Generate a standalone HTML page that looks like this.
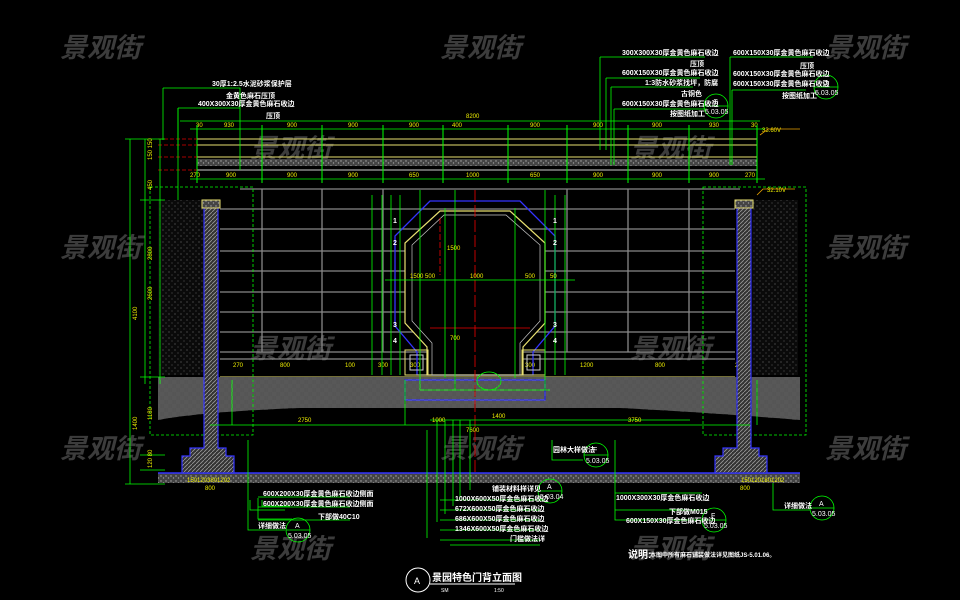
<!DOCTYPE html>
<html><head><meta charset="utf-8"><style>
html,body{margin:0;padding:0;background:#000;width:960px;height:600px;overflow:hidden}
svg{display:block}
text{font-family:"Liberation Sans","Noto Sans CJK SC",sans-serif}
.wm{fill:#3c3c3c;font-size:27px;font-style:italic;font-weight:bold}
.d{fill:#f0f000;font-size:6px}
.t{fill:#fff;font-size:7px;font-weight:bold}
</style></head><body>
<svg width="960" height="600" viewBox="0 0 960 600" xmlns="http://www.w3.org/2000/svg">
<defs>
<pattern id="dots" width="6" height="6" patternUnits="userSpaceOnUse"><rect width="6" height="6" fill="#0a0a0a"/><circle cx="1" cy="2" r=".5" fill="#999"/><circle cx="4" cy="5" r=".5" fill="#777"/></pattern>
<pattern id="weave" width="8" height="8" patternUnits="userSpaceOnUse"><rect width="8" height="8" fill="#3a3a3a"/><path d="M0 1h4M0 3h4M4 5h4M4 7h4M5 0v4M7 0v4M1 4v4M3 4v4" stroke="#888" stroke-width=".7"/></pattern>
<pattern id="hat" width="4" height="4" patternUnits="userSpaceOnUse"><rect width="4" height="4" fill="#333"/><path d="M0 4L4 0" stroke="#999" stroke-width=".8"/></pattern>
<pattern id="grav" width="5" height="5" patternUnits="userSpaceOnUse"><rect width="5" height="5" fill="#444"/><circle cx="1" cy="1" r=".7" fill="#aaa"/><circle cx="3.5" cy="3" r=".7" fill="#999"/></pattern>
</defs>

<g class="wm">
<text x="60" y="57">景观街</text><text x="440" y="57">景观街</text><text x="825" y="57">景观街</text>
<text x="250" y="158">景观街</text><text x="630" y="158">景观街</text>
<text x="60" y="257">景观街</text><text x="440" y="257">景观街</text><text x="825" y="257">景观街</text>
<text x="250" y="358">景观街</text><text x="630" y="358">景观街</text>
<text x="60" y="458">景观街</text><text x="440" y="458">景观街</text><text x="825" y="458">景观街</text>
<text x="250" y="558">景观街</text><text x="630" y="558">景观街</text>
</g>

<line x1="180" y1="121" x2="760" y2="121" stroke="#0f0" stroke-width=".8"/>
<text class="d" x="466" y="118">8200</text>
<line x1="190" y1="129" x2="765" y2="129" stroke="#0f0" stroke-width=".8"/>
<g class="d">
<text x="196" y="127">30</text><text x="224" y="127">930</text><text x="287" y="127">900</text><text x="348" y="127">900</text><text x="409" y="127">900</text><text x="452" y="127">400</text><text x="530" y="127">900</text><text x="593" y="127">900</text><text x="652" y="127">900</text><text x="709" y="127">930</text><text x="751" y="127">30</text>
<text x="190" y="177">270</text><text x="226" y="177">900</text><text x="287" y="177">900</text><text x="348" y="177">900</text><text x="409" y="177">650</text><text x="466" y="177">1000</text><text x="530" y="177">650</text><text x="593" y="177">900</text><text x="652" y="177">900</text><text x="709" y="177">900</text><text x="745" y="177">270</text>
</g>
<rect x="197" y="139" width="560" height="6" fill="none" stroke="#e8e070" stroke-width="1"/>
<line x1="197" y1="157" x2="757" y2="157" stroke="#e8e070"/>
<rect x="197" y="159" width="560" height="7" fill="url(#grav)"/>
<line x1="197" y1="170" x2="757" y2="170" stroke="#ccc"/>
<line x1="190" y1="179" x2="765" y2="179" stroke="#0f0" stroke-width=".8"/>
<g stroke="#0f0" stroke-width="1">
<path d="M262 125v58M322 125v58M383 125v58M443 125v58M508 125v58M567 125v58M628 125v58M689 125v58M197 125v58M757 125v58"/>
</g>
<g stroke="#d00" stroke-dasharray="4 2" stroke-width=".8"><path d="M158 139h39M158 145h39M158 157h39M158 170h39"/></g>
<text class="d" x="762" y="132">33.60V</text>
<text class="d" x="767" y="192">32.10V</text>
<path d="M760 135l8-6h32M757 195l6-6h32" stroke="#e8a000" fill="none" stroke-width=".8"/>

<g stroke="#888" stroke-width="1.3">
<path d="M240 189h500M220 209h515M220 229h515M220 251h515M220 271h515M220 292h515M220 312h515M220 332h515M220 352h515M220 359h515"/>
<path d="M262 189v163M322 189v163M383 189v163M567 189v163M628 189v163M689 189v163"/>
</g>
<line x1="220" y1="377" x2="735" y2="377" stroke="#e8e070"/>
<g class="d"><text x="233" y="367">270</text><text x="280" y="367">800</text><text x="345" y="367">100</text><text x="378" y="367">300</text><text x="410" y="367">300</text><text x="466" y="367">1400</text><text x="525" y="367">300</text><text x="580" y="367">1200</text><text x="655" y="367">800</text><text x="735" y="367">270</text></g>

<path d="M158 377H800V420Q700 412 620 408H300Q200 412 158 420Z" fill="url(#weave)"/>
<rect x="405" y="380" width="140" height="20" fill="url(#weave)" stroke="#33f" stroke-width="1.2"/>
<rect x="158" y="473" width="642" height="10" fill="url(#grav)"/>
<line x1="158" y1="473" x2="800" y2="473" stroke="#33f" stroke-width="1.5"/>

<rect x="158" y="200" width="46" height="175" fill="url(#dots)"/>
<rect x="752" y="200" width="46" height="175" fill="url(#dots)"/>
<rect x="150" y="187" width="103" height="248" fill="none" stroke="#0f0" stroke-dasharray="3 2" stroke-width=".8"/>
<rect x="703" y="187" width="103" height="248" fill="none" stroke="#0f0" stroke-dasharray="3 2" stroke-width=".8"/>
<g stroke="#33f" stroke-width="1.2">
<path d="M204 208h14v240h8v8h8v17h-52v-17h8v-8h14z" fill="url(#hat)"/>
<path d="M737 208h14v240h8v8h8v17h-52v-17h8v-8h14z" fill="url(#hat)"/>
</g>
<rect x="202" y="200" width="18" height="8" fill="url(#grav)" stroke="#e8e070"/>
<rect x="735" y="200" width="18" height="8" fill="url(#grav)" stroke="#e8e070"/>
<g class="d"><text x="187" y="482">1501203801202</text><text x="741" y="482">1501201801202</text><text x="205" y="490">800</text><text x="740" y="490">800</text></g>

<path d="M430 201h90l35 35v90l-22 26v23h-116v-23l-22-26v-90z" fill="none" stroke="#33f" stroke-width="1.3"/>
<path d="M440 211h70l35 32v80l-22 24v28h-96v-28l-22-24v-80z" fill="#000" stroke="#e8e070" stroke-width="1.2"/>
<path d="M444 215h62l34 30v76l-20 22v32h-88v-32l-20-22v-76z" fill="none" stroke="#c8c8c8" stroke-width=".7"/>
<rect x="405" y="350" width="23" height="25" fill="none" stroke="#e8e070"/><rect x="410" y="355" width="13" height="15" fill="none" stroke="#ccc"/>
<rect x="522" y="350" width="23" height="25" fill="none" stroke="#e8e070"/><rect x="527" y="355" width="13" height="15" fill="none" stroke="#ccc"/>
<line x1="475" y1="190" x2="475" y2="472" stroke="#e00" stroke-dasharray="12 3" stroke-width=".8"/>
<line x1="440" y1="218" x2="440" y2="275" stroke="#e00" stroke-dasharray="6 2" stroke-width=".8"/>
<line x1="430" y1="328" x2="530" y2="328" stroke="#e00" stroke-width=".8"/>
<g stroke="#0f0" stroke-width=".8" fill="none">
<path d="M372 195v180M382 195v180M391 195v180M400 195v180M555 195v180M565 195v180M385 280h190M420 390h130M430 420h260M210 425h540M420 190v200M455 190v200M445 208v170M515 208v170M545 190v200M232 380v45M757 380v45M405 380v45"/>
<ellipse cx="489" cy="381" rx="12" ry="9"/>
</g>
<g class="d">
<text x="410" y="278">1500 500</text><text x="470" y="278">1000</text><text x="525" y="278">500</text><text x="550" y="278">50</text>
<text x="447" y="250">1500</text><text x="450" y="340">700</text>
<text x="492" y="418">1400</text><text x="466" y="432">7600</text><text x="298" y="422">2750</text><text x="628" y="422">3750</text><text x="432" y="422">1000</text>
</g>
<g fill="#fff" font-size="7" font-weight="bold"><text x="393" y="223">1</text><text x="393" y="245">2</text><text x="393" y="327">3</text><text x="393" y="343">4</text><text x="553" y="223">1</text><text x="553" y="245">2</text><text x="553" y="327">3</text><text x="553" y="343">4</text></g>

<g stroke="#0f0" stroke-width=".8">
<path d="M130 139v345M145 139v245M160 139v245M125 139h40M125 484h40M140 200h25M140 377h25M140 455h25M140 470h25"/>
</g>
<g class="d">
<text x="137" y="320" transform="rotate(-90 137 320)">4100</text>
<text x="152" y="260" transform="rotate(-90 152 260)">2800</text>
<text x="152" y="300" transform="rotate(-90 152 300)">2600</text>
<text x="137" y="430" transform="rotate(-90 137 430)">1400</text>
<text x="152" y="420" transform="rotate(-90 152 420)">1180</text>
<text x="152" y="160" transform="rotate(-90 152 160)">150 150</text>
<text x="152" y="190" transform="rotate(-90 152 190)">450</text>
<text x="152" y="468" transform="rotate(-90 152 468)">120 80</text>
</g>

<g stroke="#0f0" stroke-width=".8" fill="none">
<path d="M163 88H240V170M178 108H240M178 108V200"/>
<path d="M163 88V140M178 108V150"/>
</g>
<g class="t"><text x="212" y="86">30厚1:2.5水泥砂浆保护层</text><text x="226" y="98">金黄色麻石压顶</text><text x="198" y="106">400X300X30厚金黄色麻石收边</text><text x="266" y="118">压顶</text></g>

<g stroke="#0f0" stroke-width=".8" fill="none">
<path d="M600 57H705M600 57V150M606 78H700M606 78V150M611 87H693M611 87V165M614 109H707M614 109V165M730 57H813M730 57V165M732 90H806M732 90V165"/>
<circle cx="716" cy="106" r="12"/><line x1="704" y1="106" x2="728" y2="106"/>
<circle cx="826" cy="87" r="12"/><line x1="814" y1="87" x2="838" y2="87"/>
</g>
<g class="t"><text x="622" y="55">300X300X30厚金黄色麻石收边</text><text x="690" y="66">压顶</text><text x="622" y="75">600X150X30厚金黄色麻石收边</text><text x="645" y="85">1:3防水砂浆找坪，防腐</text><text x="681" y="96">古铜色</text><text x="622" y="106">600X150X30厚金黄色麻石收边</text><text x="670" y="116">按图纸加工</text>
<text x="733" y="55">600X150X30厚金黄色麻石收边</text><text x="800" y="68">压顶</text><text x="733" y="76">600X150X30厚金黄色麻石收边</text><text x="733" y="86">600X150X30厚金黄色麻石收边</text><text x="782" y="98">按图纸加工</text></g>
<g fill="#fff" font-size="7"><text x="713" y="104">G</text><text x="705" y="114">5.03.05</text><text x="823" y="85">G</text><text x="815" y="95">5.03.05</text></g>

<g stroke="#0f0" stroke-width=".8" fill="none">
<path d="M250 500V510H285M262 500V506H290M258 498V519H292M248 440V530H285"/>
<path d="M258 497H350M258 507H350M258 520H350"/>
<circle cx="298" cy="530" r="12"/><line x1="286" y1="530" x2="310" y2="530"/>
<path d="M427 430V538M437 420V522M445 420V514M453 420V506M460 420V498M470 420V490M440 500H545M440 510H540M440 520H540M440 530H540M440 540H540M450 545H540"/>
<circle cx="550" cy="491" r="12"/><line x1="538" y1="491" x2="562" y2="491"/>
<path d="M552 440V460H583M615 440V520H702M615 493H702M615 510H702"/>
<circle cx="596" cy="455" r="12"/><line x1="584" y1="455" x2="608" y2="455"/>
<circle cx="714" cy="520" r="12"/><line x1="702" y1="520" x2="726" y2="520"/>
<path d="M773 483V510H810"/>
<circle cx="822" cy="508" r="12"/><line x1="810" y1="508" x2="834" y2="508"/>
</g>
<g class="t" font-size="6">
<text x="263" y="496">600X200X30厚金黄色麻石收边侧面</text><text x="263" y="506">600X200X30厚金黄色麻石收边侧面</text><text x="318" y="519">下部做40C10</text><text x="258" y="528">详细做法</text>
<text x="492" y="491">铺装材料样详见</text><text x="455" y="501">1000X600X50厚金色麻石收边</text><text x="455" y="511">672X600X50厚金色麻石收边</text><text x="455" y="521">686X600X50厚金色麻石收边</text><text x="455" y="531">1346X600X50厚金色麻石收边</text><text x="510" y="541">门槛做法详</text>
<text x="553" y="452">园林大样做法</text>
<text x="616" y="500">1000X300X30厚金色麻石收边</text><text x="669" y="514">下部做M015</text><text x="626" y="523">600X150X30厚金色麻石收边</text>
<text x="784" y="508">详细做法</text>
</g>
<g fill="#fff" font-size="7"><text x="295" y="528">A</text><text x="288" y="538">5.03.05</text><text x="547" y="489">A</text><text x="540" y="499">5.03.04</text><text x="593" y="452">F</text><text x="586" y="463">5.03.05</text><text x="711" y="518">F</text><text x="704" y="528">5.03.05</text><text x="819" y="506">A</text><text x="812" y="516">5.03.05</text></g>
<text x="628" y="558" fill="#fff" font-size="10" font-weight="bold">说明:</text>
<text x="650" y="557" fill="#fff" font-size="6" font-weight="bold">本图中所有麻石铺装做法详见图纸JS-5.01.06。</text>

<circle cx="418" cy="580" r="12" fill="none" stroke="#fff" stroke-width="1"/>
<text x="414" y="584" fill="#fff" font-size="9">A</text>
<line x1="430" y1="584" x2="515" y2="584" stroke="#fff"/>
<text x="432" y="581" fill="#fff" font-size="10" font-weight="bold">景园特色门背立面图</text>
<text x="441" y="592" fill="#fff" font-size="5">SM</text><text x="494" y="592" fill="#fff" font-size="5">1:50</text>
</svg>
</body></html>
